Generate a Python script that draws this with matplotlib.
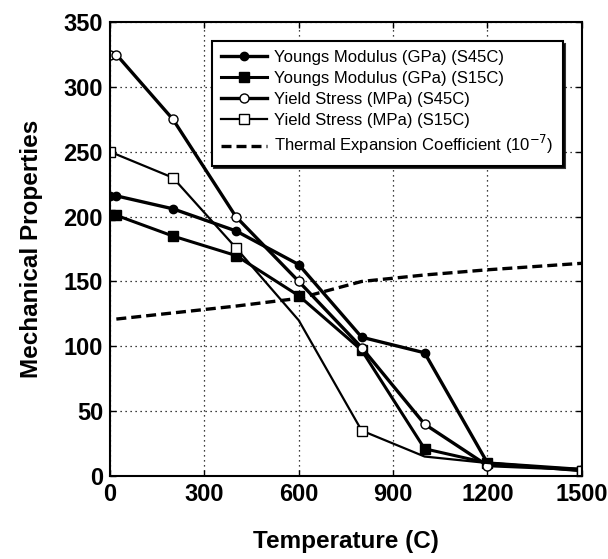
import matplotlib
matplotlib.use("Agg")
import matplotlib.pyplot as plt

plt.rcParams['font.family'] = ['Liberation Sans', 'DejaVu Sans']

temp = [0, 20, 200, 400, 600, 800, 1000, 1200, 1500]
ym_s45c = [216, 216, 206, 189, 163, 107, 95, 10, 5]
ym_s15c = [201, 201, 185, 170, 139, 97, 21, 10, 4]
ys_s45c = [325, 325, 275, 200, 150, 99, 40, 8, 5]
temp_ys15 = [0, 200, 400, 600, 800, 1000, 1200, 1500]
ys_s15c = [250, 230, 176, 120, 35, 15, 10, 4]
temp_te = [20, 400, 600, 800, 1000, 1200, 1500]
te = [121, 131, 137, 150, 155, 159, 164]

xticks = [0, 300, 600, 900, 1200, 1500]
yticks = [0, 50, 100, 150, 200, 250, 300, 350]

fig = plt.figure(figsize=(6.08, 5.59), dpi=100)
ax = fig.add_axes([0.181, 0.1485, 0.776, 0.812])

ax.plot(temp, ym_s45c, '-', color='black', lw=2.4, marker='o', ms=6,
        mfc='black', mec='black', label='Youngs Modulus (GPa) (S45C)')
ax.plot(temp, ym_s15c, '-', color='black', lw=2.2, marker='s', ms=7.5,
        mfc='black', mec='black', label='Youngs Modulus (GPa) (S15C)')
ax.plot(temp, ys_s45c, '-', color='black', lw=2.4, marker='o', ms=6.5,
        mfc='white', mec='black', mew=1, label='Yield Stress (MPa) (S45C)')
ax.plot(temp_ys15, ys_s15c, '-', color='black', lw=1.6, marker='s', ms=7,
        mfc='white', mec='black', mew=1, markevery=[0, 1, 2, 4, 7],
        label='Yield Stress (MPa) (S15C)')
ax.plot(temp_te, te, '--', color='black', lw=2.4, dashes=(3, 1.5),
        label='Thermal Expansion Coefficient (10$^{-7}$)')

ax.set_xlim(0, 1500)
ax.set_ylim(0, 350)
ax.set_xticks(xticks)
ax.set_yticks(yticks)
ax.grid(True, linestyle=(0, (1, 3)), color='black', lw=0.9)
ax.tick_params(direction='in', top=True, right=True, length=4, width=1,
               labelsize=17, pad=5)
for lab in ax.get_xticklabels() + ax.get_yticklabels():
    lab.set_fontweight('bold')
for s in ax.spines.values():
    s.set_linewidth(1.5)

ax.set_xlabel('Temperature (C)', fontsize=17.5, fontweight='bold', labelpad=17)
ax.set_ylabel('Mechanical Properties', fontsize=17.5, fontweight='bold', labelpad=15)

leg = ax.legend(loc='upper right', bbox_to_anchor=(0.977, 0.977), fontsize=12,
                frameon=True, fancybox=False, shadow={'color': 'black', 'alpha': 0.8},
                edgecolor='black', framealpha=1, handlelength=2.8,
                borderpad=0.55, labelspacing=0.35, handletextpad=0.4)
leg.get_frame().set_linewidth(1.5)

fig.savefig('out.png', dpi=100, facecolor='white')
